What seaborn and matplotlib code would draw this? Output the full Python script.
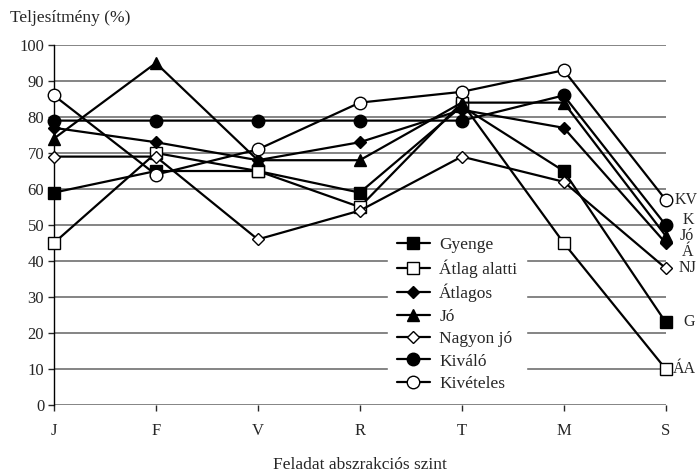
import numpy as np
import pandas as pd
import seaborn as sns
from matplotlib import pyplot as plt

# data
levels = ["J", "F", "V", "R", "T", "M", "S"]
gyenge = [59, 65, 65, 59, 83, 65, 23]
atlag_alatti = [45, 70, 65, 55, 84, 45, 10]
atlagos = [77, 73, 68, 73, 82, 77, 45]
jo = [74, 95, 68, 68, 84, 84, 47]
nagyon_jo = [69, 69, 46, 54, 69, 62, 38]
kivalo = [79, 79, 79, 79, 79, 86, 50]
kiveteles = [86, 64, 71, 84, 87, 93, 57]

names = ["Gyenge", "Átlag alatti", "Átlagos", "Jó", "Nagyon jó", "Kiváló", "Kivételes"]
short = ["G", "ÁA", "Á", "Jó", "NJ", "K", "KV"]
series = [gyenge, atlag_alatti, atlagos, jo, nagyon_jo, kivalo, kiveteles]

markers = ["s", "s", "D", "^", "D", "o", "o"]
faces = ["black", "white", "black", "black", "white", "black", "white"]
msizes = [8.5, 8.5, 6.5, 8.5, 6.5, 9, 9]
# label offsets at the end (x shift, y value)
lab_pos = [(0.17, 23), (0.07, 10), (0.16, 42.5), (0.14, 47), (0.13, 38), (0.17, 51.3), (0.09, 57)]

sns.set_style("white")
plt.rcParams['font.family'] = ['Liberation Serif', 'DejaVu Serif']

fig = plt.figure(figsize=(7, 4.74), dpi=100)
ax = fig.add_axes([0.077, 0.1456, 0.874, 0.7594])

rows = []
for n, vals in zip(names, series):
    for i, v in enumerate(vals):
        rows.append({"name": n, "x": i, "y": v})
df = pd.DataFrame(rows)

for n, m, fc, ms in zip(names, markers, faces, msizes):
    sub = df[df.name == n]
    sns.lineplot(x="x", y="y", data=sub, ax=ax, color="black", lw=1.6,
                 marker=m, markerfacecolor=fc, markeredgecolor="black",
                 markeredgewidth=1.0, markersize=ms, label=n, zorder=3,
                 clip_on=False)

for vals, s, (dx, yy) in zip(series, short, lab_pos):
    ax.text(6 + dx, yy, s, ha="left", va="center", fontsize=11.5)

ax.set_xlim(0, 6)
ax.set_ylim(0, 100)
ax.set_yticks(range(0, 101, 10))
ax.set_xticks(range(len(levels)))
ax.set_xticklabels(levels)
ax.yaxis.grid(True, color="#707070", lw=1.2, zorder=0)
ax.xaxis.grid(False)
for side in ["top", "right"]:
    ax.spines[side].set_visible(False)
ax.spines["bottom"].set_visible(False)
ax.spines["left"].set_color("black")
ax.spines["left"].set_linewidth(1.0)
ax.tick_params(axis="y", left=True, length=4, width=1, labelsize=12, pad=3)
ax.tick_params(axis="x", bottom=True, length=4, width=1, labelsize=12, pad=9)
ax.set_xlabel("Feladat abszrakciós szint", fontsize=12.5, labelpad=13)
ax.set_ylabel("")
fig.text(0.014, 0.962, "Teljesítmény (%)", fontsize=12.5, ha="left", va="center")

leg = ax.legend(loc="lower left", bbox_to_anchor=(0.532, -0.012), frameon=True,
                fontsize=12.5, handlelength=1.9, labelspacing=0.36,
                borderpad=0.5, handletextpad=0.55)
leg.get_frame().set_edgecolor("white")
leg.get_frame().set_facecolor("white")
leg.get_frame().set_alpha(1)
leg.set_zorder(5)

plt.savefig("out.png", dpi=100)
